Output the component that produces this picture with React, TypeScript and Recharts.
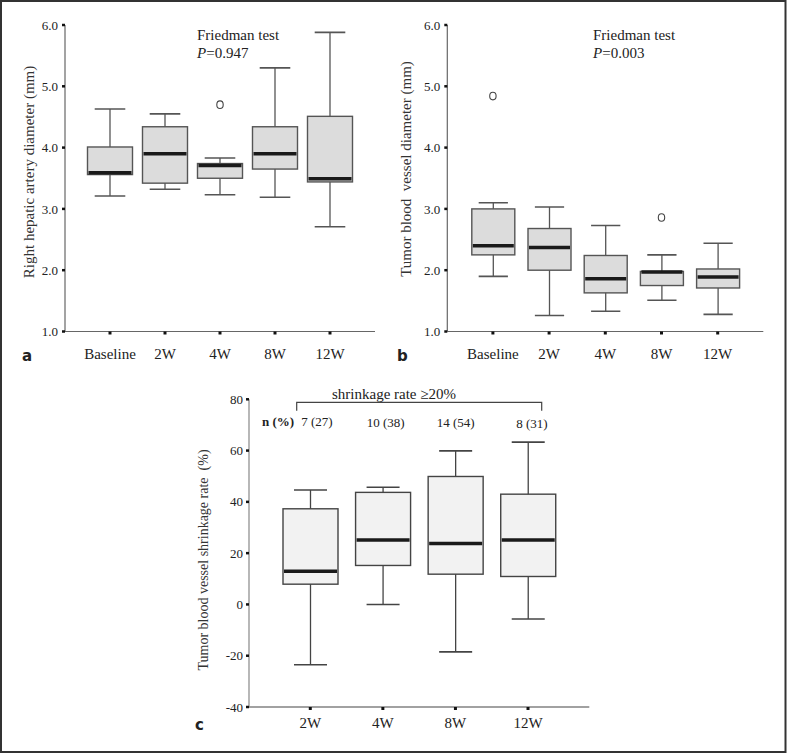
import React from 'react';
import { ComposedChart, Bar, Scatter, XAxis, YAxis } from 'recharts';

// ---------- Panel a: right hepatic artery diameter ----------
const categoriesAB = ['Baseline', '2W', '4W', '8W', '12W'];
const aLow = [3.21, 3.32, 3.23, 3.19, 2.71];
const aQ1 = [3.56, 3.42, 3.5, 3.65, 3.44];
const aMedian = [3.59, 3.9, 3.71, 3.9, 3.49];
const aQ3 = [4.01, 4.34, 3.74, 4.34, 4.51];
const aHigh = [4.63, 4.55, 3.83, 5.3, 5.88];
const aOutlier = [null, null, 4.7, null, null];

// ---------- Panel b: tumor blood vessel diameter ----------
const bLow = [1.9, 1.26, 1.33, 1.51, 1.28];
const bQ1 = [2.25, 2.0, 1.63, 1.75, 1.71];
const bMedian = [2.4, 2.37, 1.86, 1.97, 1.89];
const bQ3 = [3.0, 2.68, 2.24, 1.98, 2.02];
const bHigh = [3.1, 3.03, 2.73, 2.25, 2.44];
const bOutlier = [4.84, null, null, 2.86, null];

// ---------- Panel c: shrinkage rate ----------
const categoriesC = ['2W', '4W', '8W', '12W'];
const cLow = [-23.5, 0, -18.5, -5.7];
const cQ1 = [7.9, 15.2, 11.8, 10.9];
const cMedian = [12.9, 25.1, 23.8, 25.1];
const cQ3 = [37.3, 43.7, 49.9, 43.0];
const cHigh = [44.6, 45.7, 59.9, 63.3];
const cOutlier = [null, null, null, null];
const cCounts = ['7 (27)', '10 (38)', '14 (54)', '8 (31)'];

const ticksAB = [1, 2, 3, 4, 5, 6];
const ticksC = [-40, -20, 0, 20, 40, 60, 80];

const build = (
  cats: string[],
  low: number[],
  q1: number[],
  med: number[],
  q3: number[],
  high: number[],
  out: (number | null)[]
) =>
  cats.map((cat, i) => ({
    cat,
    low: low[i],
    q1: q1[i],
    med: med[i],
    q3: q3[i],
    high: high[i],
    range: [low[i], high[i]],
    out: out[i],
  }));

const dataA = build(categoriesAB, aLow, aQ1, aMedian, aQ3, aHigh, aOutlier);
const dataB = build(categoriesAB, bLow, bQ1, bMedian, bQ3, bHigh, bOutlier);
const dataC = build(categoriesC, cLow, cQ1, cMedian, cQ3, cHigh, cOutlier);

const SERIF = '"Liberation Serif", "Times New Roman", serif';
const SANS = '"DejaVu Sans", "Liberation Sans", sans-serif';

function makeBoxShape(fill: string, stroke: string, capRatio: number) {
  return (props: any) => {
    const { x, y, width, height, payload } = props;
    if (!payload || width == null) return <g />;
    const { low, high, q1, q3, med } = payload;
    const top = Math.min(y, y + height);
    const bottom = Math.max(y, y + height);
    const pix = (v: number) => top + ((high - v) / (high - low)) * (bottom - top);
    const cx = x + width / 2;
    const cap = width * capRatio;
    return (
      <g>
        <line x1={cx} x2={cx} y1={pix(high)} y2={pix(low)} stroke={stroke} strokeWidth={1.3} />
        <line x1={cx - cap / 2} x2={cx + cap / 2} y1={pix(high)} y2={pix(high)} stroke={stroke} strokeWidth={1.6} />
        <line x1={cx - cap / 2} x2={cx + cap / 2} y1={pix(low)} y2={pix(low)} stroke={stroke} strokeWidth={1.6} />
        <rect
          x={x}
          y={pix(q3)}
          width={width}
          height={Math.max(pix(q1) - pix(q3), 1)}
          fill={fill}
          stroke={stroke}
          strokeWidth={1.4}
        />
        <line x1={x + 1} x2={x + width - 1} y1={pix(med)} y2={pix(med)} stroke="#1a1a1a" strokeWidth={3.5} />
      </g>
    );
  };
}

const outlierShape = (props: any) => {
  const { cx, cy, payload } = props;
  if (!payload || payload.out == null || !Number.isFinite(cx) || !Number.isFinite(cy)) return <g />;
  return <ellipse cx={cx} cy={cy} rx={3.2} ry={3.8} fill="none" stroke="#444" strokeWidth={1.1} />;
};

const axisColor = '#666';

function PanelAB(props: { data: any[]; yWidth: number; right: number; barSize: number; left: number }) {
  const { data, yWidth, right, barSize, left } = props;
  return (
    <div style={{ position: 'absolute', left, top: 0, width: 390, height: 380, fontFamily: SERIF }}>
      <ComposedChart width={390} height={380} data={data} margin={{ top: 25, right, bottom: 18.5, left: 0 }}>
        <XAxis
          dataKey="cat"
          type="category"
          interval={0}
          padding={{ left: 17.5, right: 17.5 }}
          height={30}
          axisLine={{ stroke: axisColor, strokeWidth: 1.2 }}
          tickLine={{ stroke: '#111', strokeWidth: 3 }}
          tickSize={3}
          tickMargin={14}
          tick={{ fill: '#222', fontSize: 15, fontFamily: SERIF }}
        />
        <YAxis
          type="number"
          domain={[1, 6]}
          ticks={ticksAB}
          tickFormatter={(v: number) => v.toFixed(1)}
          width={yWidth}
          axisLine={{ stroke: axisColor, strokeWidth: 1.2 }}
          tickLine={{ stroke: '#111', strokeWidth: 2.5 }}
          tickSize={3}
          tickMargin={4}
          tick={{ fill: '#222', fontSize: 13, fontFamily: SERIF }}
          allowDataOverflow
        />
        <Bar dataKey="range" barSize={barSize} shape={makeBoxShape('#dcdcdc', '#555', 0.68)} isAnimationActive={false} />
        <Scatter dataKey="out" shape={outlierShape} isAnimationActive={false} />
      </ComposedChart>
    </div>
  );
}

export default function App() {
  return (
    <div
      style={{
        position: 'absolute',
        left: 0,
        top: 0,
        width: 787,
        height: 754,
        background: '#fff',
        overflow: 'hidden',
        fontFamily: SERIF,
      }}
    >
      <PanelAB data={dataA} yWidth={65} right={15} barSize={45} left={0} />
      <PanelAB data={dataB} yWidth={57.3} right={16.7} barSize={43} left={390} />

      <div style={{ position: 'absolute', left: 200, top: 360, width: 400, height: 394, fontFamily: SERIF }}>
        <ComposedChart width={400} height={394} data={dataC} margin={{ top: 39.3, right: 10.7, bottom: 17, left: 0 }}>
          <XAxis
            dataKey="cat"
            type="category"
            interval={0}
            padding={{ left: 25, right: 25 }}
            height={30}
            axisLine={{ stroke: '#444', strokeWidth: 1.2 }}
            tickLine={{ stroke: '#111', strokeWidth: 3 }}
            tickSize={3}
            tickMargin={7.7}
            tick={{ fill: '#222', fontSize: 15, fontFamily: SERIF }}
          />
          <YAxis
            type="number"
            domain={[-40, 80]}
            ticks={ticksC}
            width={49}
            axisLine={{ stroke: '#888', strokeWidth: 1.2 }}
            tickLine={{ stroke: '#111', strokeWidth: 2.5 }}
            tickSize={3}
            tickMargin={3}
            tick={{ fill: '#222', fontSize: 13, fontFamily: SERIF }}
            allowDataOverflow
          />
          <Bar dataKey="range" barSize={55} shape={makeBoxShape('#f2f2f2', '#444', 0.6)} isAnimationActive={false} />
        </ComposedChart>
      </div>

      <svg width={787} height={754} style={{ position: 'absolute', left: 0, top: 0, pointerEvents: 'none' }}>
        <rect x={1} y={1} width={784.5} height={751} fill="none" stroke="#333" strokeWidth={2} />

        {/* panel letters */}
        <text x={22} y={361} fontFamily={SANS} fontWeight="bold" fontSize={15} fill="#222">a</text>
        <text x={397} y={361} fontFamily={SANS} fontWeight="bold" fontSize={15} fill="#222">b</text>
        <text x={195} y={730} fontFamily={SANS} fontWeight="bold" fontSize={15} fill="#222">c</text>

        {/* y axis titles */}
        <text
          x={29}
          y={172}
          transform="rotate(-90 29 172)"
          textAnchor="middle"
          dominantBaseline="central"
          fontFamily={SERIF}
          fontSize={15}
          fill="#333"
        >
          Right hepatic artery diameter (mm)
        </text>
        <text
          x={405.7}
          y={169}
          transform="rotate(-90 405.7 169)"
          textAnchor="middle"
          dominantBaseline="central"
          fontFamily={SERIF}
          fontSize={15}
          fill="#333"
          style={{ whiteSpace: 'pre' }}
        >
          {'Tumor blood  vessel diameter (mm)'}
        </text>
        <text
          x={203.3}
          y={560}
          transform="rotate(-90 203.3 560)"
          textAnchor="middle"
          dominantBaseline="central"
          fontFamily={SERIF}
          fontSize={14}
          fill="#333"
          style={{ whiteSpace: 'pre' }}
        >
          {'Tumor blood vessel shrinkage rate  (%)'}
        </text>

        {/* Friedman tests */}
        <text x={197} y={39.5} fontFamily={SERIF} fontSize={15} fill="#222">Friedman test</text>
        <text x={197} y={57.5} fontFamily={SERIF} fontSize={15} fill="#222">
          <tspan fontStyle="italic">P</tspan>=0.947
        </text>
        <text x={593} y={39.5} fontFamily={SERIF} fontSize={15} fill="#222">Friedman test</text>
        <text x={593} y={57.5} fontFamily={SERIF} fontSize={15} fill="#222">
          <tspan fontStyle="italic">P</tspan>=0.003
        </text>

        {/* shrinkage bracket */}
        <text x={394} y={398.5} textAnchor="middle" fontFamily={SERIF} fontSize={15} fill="#222">
          shrinkage rate ≥20%
        </text>
        <path d="M296.7 410.7 V402.3 H541.7 V410.7" fill="none" stroke="#444" strokeWidth={1.2} />
        <text x={262} y={426} fontFamily={SERIF} fontSize={13} fontWeight="bold" fill="#222">n (%)</text>
        <text x={317} y={426} textAnchor="middle" fontFamily={SERIF} fontSize={13} fill="#222">{cCounts[0]}</text>
        <text x={385.7} y={427} textAnchor="middle" fontFamily={SERIF} fontSize={13} fill="#222">{cCounts[1]}</text>
        <text x={455.7} y={427} textAnchor="middle" fontFamily={SERIF} fontSize={13} fill="#222">{cCounts[2]}</text>
        <text x={532} y={428} textAnchor="middle" fontFamily={SERIF} fontSize={13} fill="#222">{cCounts[3]}</text>
      </svg>
    </div>
  );
}
